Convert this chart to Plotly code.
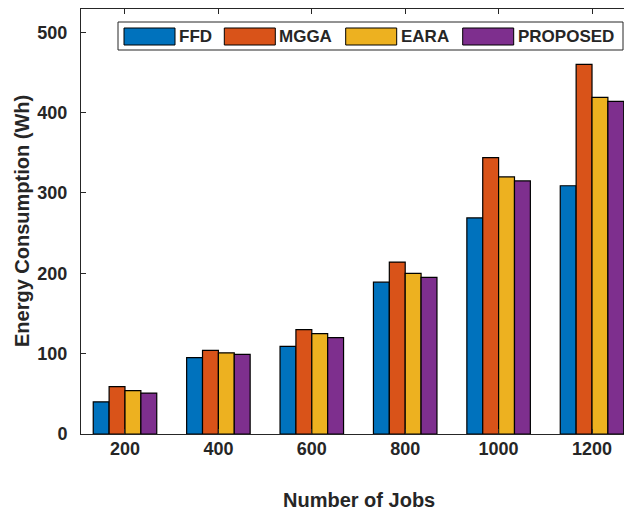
import plotly.graph_objects as go

jobs = ["200", "400", "600", "800", "1000", "1200"]
series_names = ["FFD", "MGGA", "EARA", "PROPOSED"]
ffd = [40, 95, 109, 189, 269, 309]
mgga = [59, 104, 130, 214, 344, 460]
eara = [54, 101, 125, 200, 320, 419]
proposed = [51, 99, 120, 195, 315, 414]
y_ticks = [0, 100, 200, 300, 400, 500]
x_title = "Number of Jobs"
y_title = "Energy Consumption (Wh)"

colors = ["#0072BD", "#D95319", "#EDB120", "#7E2F8E"]
series_values = [ffd, mgga, eara, proposed]

# page body has an 8px default margin; compensate so the plot lands where the reference has it
OFF = 8
W, H = 632, 513
L, R, T, B = 73, 4, 1, 87
PW, PH = W - L - R, H - T - B
FONT = "Liberation Sans, Arial, Helvetica, sans-serif"
TXT = "#262626"

fig = go.Figure()
for name, vals, col in zip(series_names, series_values, colors):
    fig.add_trace(go.Bar(
        x=jobs, y=vals, name=name,
        marker=dict(color=col, line=dict(color="#000000", width=1.2)),
        showlegend=False,
    ))

def px_x(sx):
    return (sx - OFF - L) / PW

def px_y(sy):
    return (H - B - (sy - OFF)) / PH

shapes = []
annotations = []
# legend box
shapes.append(dict(type="rect", xref="paper", yref="paper",
                   x0=px_x(118), x1=px_x(623), y0=px_y(50), y1=px_y(22),
                   line=dict(color="#262626", width=1), fillcolor="white", layer="above"))
sw_left = [124, 224.3, 345.7, 462.7]
for name, col, sl in zip(series_names, colors, sw_left):
    shapes.append(dict(type="rect", xref="paper", yref="paper",
                       x0=px_x(sl), x1=px_x(sl + 51), y0=px_y(45), y1=px_y(28),
                       line=dict(color="#000000", width=1), fillcolor=col, layer="above"))
    annotations.append(dict(xref="paper", yref="paper", x=px_x(sl + 53), y=px_y(36.5),
                            text=f"<b>{name}</b>", showarrow=False, xanchor="left", yanchor="middle",
                            font=dict(family=FONT, size=17, color=TXT)))

# axis titles
annotations.append(dict(xref="paper", yref="paper", x=px_x(358.5), y=px_y(500),
                        text=f"<b>{x_title}</b>", showarrow=False, xanchor="center", yanchor="middle",
                        font=dict(family=FONT, size=20, color=TXT)))
annotations.append(dict(xref="paper", yref="paper", x=px_x(22), y=px_y(221),
                        text=f"<b>{y_title}</b>", showarrow=False, xanchor="center", yanchor="middle",
                        textangle=-90, font=dict(family=FONT, size=20, color=TXT)))

fig.update_layout(
    width=W, height=H,
    margin=dict(l=L, r=R, t=T, b=B),
    paper_bgcolor="white", plot_bgcolor="white",
    barmode="group", bargap=0.32, bargroupgap=0,
    font=dict(family=FONT, size=18, color=TXT),
    shapes=shapes, annotations=annotations,
)
fig.update_xaxes(
    type="category", range=[-0.471, 5.471], automargin=False,
    tickvals=jobs, ticktext=[f"<b>{j}</b>" for j in jobs],
    showline=True, linecolor="#262626", linewidth=1, mirror="ticks",
    ticks="inside", ticklen=5, tickcolor="#262626",
    showgrid=False, zeroline=False,
    tickfont=dict(family=FONT, size=18, color=TXT),
    ticklabelstandoff=-2,
)
fig.update_yaxes(
    range=[0, 529], automargin=False,
    tickvals=y_ticks, ticktext=[f"<b>{v}</b>" for v in y_ticks],
    showline=True, linecolor="#262626", linewidth=1, mirror=False,
    ticks="inside", ticklen=5, tickcolor="#262626",
    showgrid=False, zeroline=False,
    tickfont=dict(family=FONT, size=18, color=TXT),
    ticklabelstandoff=9,
)

fig.write_html("out.html")
